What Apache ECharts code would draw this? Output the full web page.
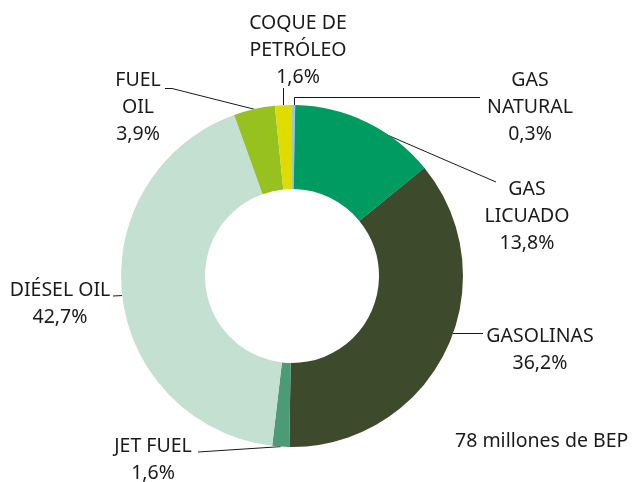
<!DOCTYPE html>
<html>
<head>
<meta charset="utf-8">
<script src="https://cdn.jsdelivr.net/npm/echarts@6/dist/echarts.min.js"></script>
<style>
  html, body { margin: 0; padding: 0; background: #fff; }
  #chart-container { width: 632px; height: 482px; }
</style>
</head>
<body>
<div id="chart-container"></div>
<script>
var dom = document.getElementById('chart-container');
var myChart = echarts.init(dom, null, { renderer: 'canvas' });

// consumo por producto (%), sentido horario desde arriba
var names = ['GAS\nNATURAL', 'GAS\nLICUADO', 'GASOLINAS', 'JET FUEL', 'DIÉSEL OIL', 'FUEL\nOIL', 'COQUE DE\nPETRÓLEO'];
var values = [0.3, 13.8, 36.2, 1.6, 42.7, 3.9, 1.6];
var colors = ['#8ccbe0', '#009b61', '#3d4a2b', '#4a9b76', '#c4e0d1', '#96c11f', '#e0dc00'];
var note = '78 millones de BEP';

// label block centres and the guide line ends next to them
var labelPos = [
  [530, 107], [527, 216], [540, 350], [153, 460], [60, 304], [138, 107], [298, 50]
];
var lineEnds = [
  [[294.5, 97.5], [480, 97.5]],
  [[496, 182]],
  [[483, 333.5]],
  [[198, 452]],
  [[113, 296]],
  [[172, 88.5], [165, 88.5]],
  [[283.5, 88]]
];
// a few lines leave the ring away from the slice middle
var lineStarts = [[294.5, 105], [385, 134], [453, 333.5], null, null, null, [283.5, 105]];

var data = names.map(function (n, i) {
  return { name: n, value: values[i], itemStyle: { color: colors[i] } };
});

var option = {
  animation: false,
  graphic: [{
    type: 'text',
    left: 455,
    top: 431,
    style: { text: note, fontFamily: 'Noto Sans', fontSize: 19.5, fill: '#1a1a1a' }
  }],
  series: [{
    type: 'pie',
    center: [292, 276],
    radius: [87, 171],
    startAngle: 90,
    clockwise: true,
    data: data,
    label: {
      show: true,
      formatter: function (p) {
        return p.name + '\n' + p.value.toFixed(1).replace('.', ',') + '%';
      },
      fontFamily: 'Noto Sans',
      fontSize: 19.5,
      lineHeight: 27,
      color: '#1a1a1a',
      align: 'center',
      overflow: 'none'
    },
    labelLine: {
      show: true,
      lineStyle: { color: '#1a1a1a', width: 1 }
    },
    labelLayout: function (params) {
      var i = params.dataIndex;
      var p = labelPos[i];
      var start = lineStarts[i] || params.labelLinePoints[0];
      return {
        x: p[0], y: p[1], align: 'center', verticalAlign: 'middle',
        labelLinePoints: [start].concat(lineEnds[i])
      };
    },
    emphasis: { disabled: true }
  }]
};

myChart.setOption(option);
window.addEventListener('resize', myChart.resize);
</script>
</body>
</html>
